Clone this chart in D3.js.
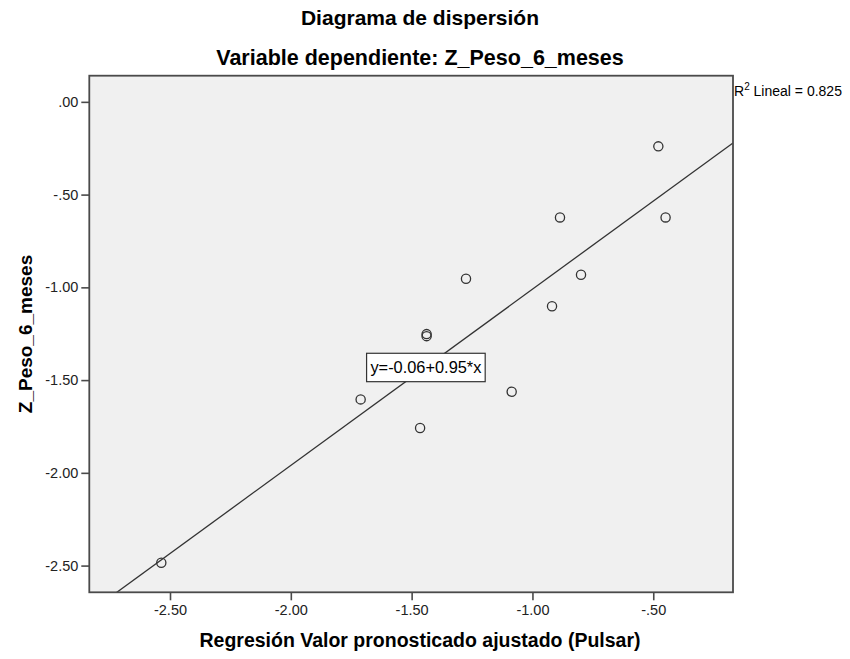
<!DOCTYPE html>
<html>
<head>
<meta charset="utf-8">
<script src="https://cdn.jsdelivr.net/npm/d3@7"></script>
<style>
  body { margin: 0; background: #fff; }
  text { font-family: "Liberation Sans", Arial, sans-serif; fill: #000; }
  .tick text { font-size: 14.5px; fill: #222; }
  .tick line { stroke: #4a4a4a; stroke-width: 1.6; }
</style>
</head>
<body>
<div id="chart"></div>
<script>
// Predicted (x) vs Z_Peso_6_meses (y)
const predicted = [-0.479, -0.886, -0.449, -1.275, -0.799, -0.919, -1.438, -1.438, -1.711, -1.086, -1.465, -2.536];
const zPeso    = [-0.240, -0.623, -0.623, -0.954, -0.932, -1.102, -1.252, -1.263, -1.604, -1.563, -1.758, -2.485];
const xTicks = [-2.5, -2.0, -1.5, -1.0, -0.5];
const yTicks = [0, -0.5, -1.0, -1.5, -2.0, -2.5];
const intercept = -0.06, slope = 0.95, r2 = 0.825;

let margin = { top: 75.7, left: 89.3, right: 117, bottom: 66.7 },
    width = 850 - margin.left - margin.right,
    height = 659 - margin.top - margin.bottom;

let xScale = d3.scaleLinear().domain([-2.834, -0.170]).range([0, width]);
let yScale = d3.scaleLinear().domain([-2.644, 0.141]).range([height, 0]);

// ".00", "-.50" style labels, plain hyphen for minus
let locale = d3.formatLocale({ decimal: ".", thousands: ",", grouping: [3], currency: ["", ""], minus: "-" });
let fmt = v => locale.format(".2f")(v).replace(/^(-?)0\./, "$1.");

let svg = d3.select("#chart").append("svg")
    .attr("width", 850)
    .attr("height", 659);

svg.append("text")
    .attr("x", 420).attr("y", 25)
    .attr("text-anchor", "middle")
    .style("font-size", "21px").style("font-weight", "bold")
    .text("Diagrama de dispersión");

svg.append("text")
    .attr("x", 420).attr("y", 65)
    .attr("text-anchor", "middle")
    .style("font-size", "21.5px").style("font-weight", "bold")
    .text("Variable dependiente: Z_Peso_6_meses");

let g = svg.append("g")
    .attr("transform", "translate(" + margin.left + "," + margin.top + ")");

g.append("defs").append("clipPath").attr("id", "plotclip")
  .append("rect").attr("width", width).attr("height", height);

// plot background
g.append("rect")
    .attr("width", width).attr("height", height)
    .attr("fill", "#f0f0f0");

// axes
let xAxis = g.append("g")
    .attr("transform", "translate(0," + height + ")")
    .call(d3.axisBottom(xScale).tickValues(xTicks).tickFormat(fmt).tickSize(8).tickPadding(4).tickSizeOuter(0));
xAxis.select(".domain").remove();

let yAxis = g.append("g")
    .call(d3.axisLeft(yScale).tickValues(yTicks).tickFormat(fmt).tickSize(8).tickPadding(3).tickSizeOuter(0));
yAxis.select(".domain").remove();

// fit line
let xd = xScale.domain();
let lineG = g.append("g").attr("clip-path", "url(#plotclip)");
lineG.append("line")
    .attr("x1", xScale(xd[0])).attr("y1", yScale(intercept + slope * xd[0]))
    .attr("x2", xScale(xd[1])).attr("y2", yScale(intercept + slope * xd[1]))
    .attr("stroke", "#333").attr("stroke-width", 1.3);

// points
g.append("g").selectAll("circle")
  .data(predicted.map((x, i) => [x, zPeso[i]]))
  .enter().append("circle")
    .attr("cx", d => xScale(d[0]))
    .attr("cy", d => yScale(d[1]))
    .attr("r", 4.6)
    .attr("fill", "none")
    .attr("stroke", "#333")
    .attr("stroke-width", 1.3);

// equation label
let eq = g.append("g")
    .attr("transform", "translate(" + xScale(-1.441) + "," + yScale(-1.432) + ")");
eq.append("rect")
    .attr("x", -59.3).attr("y", -14.2)
    .attr("width", 118.6).attr("height", 28.4)
    .attr("fill", "#fff")
    .attr("stroke", "#333").attr("stroke-width", 1.2);
eq.append("text")
    .attr("text-anchor", "middle")
    .attr("dy", "0.36em")
    .attr("textLength", 111).attr("lengthAdjust", "spacingAndGlyphs")
    .style("font-size", "16.5px")
    .text("y=" + intercept.toFixed(2) + "+" + slope.toFixed(2) + "*x");

// frame
g.append("rect")
    .attr("width", width).attr("height", height)
    .attr("fill", "none")
    .attr("stroke", "#4a4a4a").attr("stroke-width", 1.8);

// R2 note
let r2t = svg.append("text")
    .attr("x", margin.left + width + 1).attr("y", 96)
    .style("font-size", "14px");
r2t.append("tspan").text("R");
r2t.append("tspan").attr("dy", -6).style("font-size", "10px").text("2");
r2t.append("tspan").attr("dy", 6).text(" Lineal = " + r2.toFixed(3));

// axis labels
svg.append("text")
    .attr("x", 420).attr("y", 647)
    .attr("text-anchor", "middle")
    .style("font-size", "19.5px").style("font-weight", "bold")
    .text("Regresión Valor pronosticado ajustado (Pulsar)");

svg.append("text")
    .attr("transform", "translate(32," + (margin.top + height / 2) + ") rotate(-90)")
    .attr("text-anchor", "middle")
    .style("font-size", "19px").style("font-weight", "bold")
    .text("Z_Peso_6_meses");
</script>
</body>
</html>
